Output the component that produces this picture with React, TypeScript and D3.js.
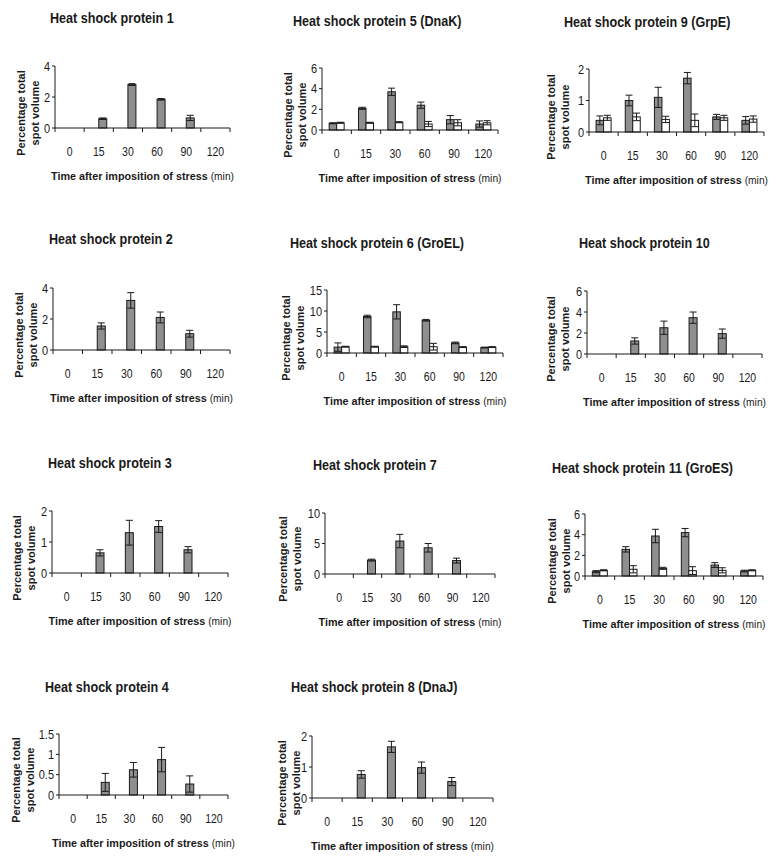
import React from "react";
import * as d3 from "d3";

const categories = ["0", "15", "30", "60", "90", "120"];

const hsp1Mean = [0, 0.6, 2.8, 1.85, 0.65, 0];
const hsp1Err = [0, 0.05, 0.06, 0.05, 0.17, 0];
const hsp2Mean = [0, 1.55, 3.2, 2.1, 1.05, 0];
const hsp2Err = [0, 0.2, 0.5, 0.35, 0.22, 0];
const hsp3Mean = [0, 0.65, 1.3, 1.5, 0.75, 0];
const hsp3Err = [0, 0.1, 0.4, 0.19, 0.1, 0];
const hsp4Mean = [0, 0.31, 0.62, 0.87, 0.27, 0];
const hsp4Err = [0, 0.22, 0.18, 0.3, 0.2, 0];
const hsp5Stress = [0.65, 2.1, 3.7, 2.4, 1.0, 0.58];
const hsp5StressErr = [0.05, 0.1, 0.35, 0.3, 0.4, 0.3];
const hsp5Control = [0.7, 0.7, 0.75, 0.58, 0.7, 0.7];
const hsp5ControlErr = [0.05, 0.05, 0.05, 0.25, 0.3, 0.2];
const hsp6Stress = [1.4, 8.7, 9.8, 7.8, 2.4, 1.3];
const hsp6StressErr = [1.0, 0.3, 1.7, 0.2, 0.2, 0.1];
const hsp6Control = [1.5, 1.5, 1.5, 1.5, 1.4, 1.4];
const hsp6ControlErr = [0.1, 0.1, 0.2, 0.8, 0.1, 0.1];
const hsp7Mean = [0, 2.28, 5.4, 4.3, 2.2, 0];
const hsp7Err = [0, 0.15, 1.1, 0.7, 0.4, 0];
const hsp8Mean = [0, 0.76, 1.65, 0.98, 0.53, 0];
const hsp8Err = [0, 0.12, 0.18, 0.18, 0.13, 0];
const hsp9Stress = [0.37, 1.0, 1.1, 1.71, 0.48, 0.37];
const hsp9StressErr = [0.14, 0.17, 0.32, 0.18, 0.08, 0.12];
const hsp9Control = [0.45, 0.48, 0.4, 0.37, 0.45, 0.41];
const hsp9ControlErr = [0.08, 0.12, 0.1, 0.2, 0.08, 0.1];
const hsp10Mean = [0, 1.24, 2.5, 3.46, 1.94, 0];
const hsp10Err = [0, 0.3, 0.63, 0.54, 0.44, 0];
const hsp11Stress = [0.42, 2.58, 3.87, 4.2, 1.06, 0.48];
const hsp11StressErr = [0.1, 0.26, 0.65, 0.4, 0.23, 0.08];
const hsp11Control = [0.55, 0.65, 0.74, 0.52, 0.55, 0.55];
const hsp11ControlErr = [0.05, 0.35, 0.1, 0.38, 0.25, 0.05];

const xLabel = "Time after imposition of stress";
const xLabelUnit = "(min)";
const yLabel1 = "Percentage total";
const yLabel2 = "spot volume";

type Series = { vals: number[]; errs: number[]; fill: string } | null;
type Panel = {
  title: string;
  yMax: number;
  yTicks: number[];
  series: Series[];
  ax: number; top: number; zero: number; xEnd: number;
  tx: number; ty: number; ylx: number;
};

const GREY = "#8f8f8f";
const WHITE = "#ffffff";

const panels: Panel[] = [
  { title: "Heat shock protein 1", yMax: 4, yTicks: [0, 2, 4],
    series: [null, { vals: hsp1Mean, errs: hsp1Err, fill: GREY }],
    ax: 55, top: 66, zero: 128, xEnd: 230, tx: 50, ty: 18, ylx: -34 },
  { title: "Heat shock protein 5 (DnaK)", yMax: 6, yTicks: [0, 2, 4, 6],
    series: [{ vals: hsp5Stress, errs: hsp5StressErr, fill: GREY }, { vals: hsp5Control, errs: hsp5ControlErr, fill: WHITE }],
    ax: 322, top: 68, zero: 130, xEnd: 498, tx: 293, ty: 21, ylx: -34 },
  { title: "Heat shock protein 9 (GrpE)", yMax: 2, yTicks: [0, 1, 2],
    series: [{ vals: hsp9Stress, errs: hsp9StressErr, fill: GREY }, { vals: hsp9Control, errs: hsp9ControlErr, fill: WHITE }],
    ax: 589, top: 69, zero: 132, xEnd: 764, tx: 564, ty: 22, ylx: -38 },
  { title: "Heat shock protein 2", yMax: 4, yTicks: [0, 2, 4],
    series: [null, { vals: hsp2Mean, errs: hsp2Err, fill: GREY }],
    ax: 53, top: 288, zero: 350, xEnd: 230, tx: 49, ty: 239, ylx: -34 },
  { title: "Heat shock protein 6 (GroEL)", yMax: 15, yTicks: [0, 5, 10, 15],
    series: [{ vals: hsp6Stress, errs: hsp6StressErr, fill: GREY }, { vals: hsp6Control, errs: hsp6ControlErr, fill: WHITE }],
    ax: 327, top: 290, zero: 353, xEnd: 503, tx: 290, ty: 243, ylx: -41 },
  { title: "Heat shock protein 10", yMax: 6, yTicks: [0, 2, 4, 6],
    series: [null, { vals: hsp10Mean, errs: hsp10Err, fill: GREY }],
    ax: 587, top: 291, zero: 354, xEnd: 762, tx: 579, ty: 243, ylx: -36 },
  { title: "Heat shock protein 3", yMax: 2, yTicks: [0, 1, 2],
    series: [null, { vals: hsp3Mean, errs: hsp3Err, fill: GREY }],
    ax: 52, top: 511, zero: 573, xEnd: 228, tx: 48, ty: 463, ylx: -35 },
  { title: "Heat shock protein 7", yMax: 10, yTicks: [0, 5, 10],
    series: [null, { vals: hsp7Mean, errs: hsp7Err, fill: GREY }],
    ax: 325, top: 513, zero: 574, xEnd: 495, tx: 313, ty: 465, ylx: -42 },
  { title: "Heat shock protein 11 (GroES)", yMax: 6, yTicks: [0, 2, 4, 6],
    series: [{ vals: hsp11Stress, errs: hsp11StressErr, fill: GREY }, { vals: hsp11Control, errs: hsp11ControlErr, fill: WHITE }],
    ax: 585, top: 514, zero: 576, xEnd: 763, tx: 552, ty: 468, ylx: -33 },
  { title: "Heat shock protein 4", yMax: 1.5, yTicks: [0, 0.5, 1, 1.5],
    series: [null, { vals: hsp4Mean, errs: hsp4Err, fill: GREY }],
    ax: 59, top: 734, zero: 795, xEnd: 228, tx: 45, ty: 687, ylx: -43 },
  { title: "Heat shock protein 8 (DnaJ)", yMax: 2, yTicks: [0, 1, 2],
    series: [null, { vals: hsp8Mean, errs: hsp8Err, fill: GREY }],
    ax: 312, top: 736, zero: 798, xEnd: 493, tx: 291, ty: 687, ylx: -30 },
];

const FONT = "'Liberation Sans', Arial, sans-serif";
const INK = "#1a1a1a";

function PanelChart({ p }: { p: Panel }) {
  const x = d3.scaleBand<string>().domain(categories).range([p.ax, p.xEnd]).padding(0);
  const bw = x.bandwidth();
  const double = p.series[0] !== null;
  const half = double ? 7.5 : 8;
  const xs = d3.scaleBand<string>().domain(["a", "b"]).range([bw / 2 - half, bw / 2 + half]).padding(0);
  const y = d3.scaleLinear().domain([0, p.yMax]).range([p.zero, p.top]);
  const boundaries = d3.range(categories.length + 1).map((i) => p.ax + i * bw);
  const yMid = p.zero - 15;
  const fmt = (v: number) => String(v);
  return (
    <g>
      <text transform={`translate(${p.tx},${p.ty + 5}) scale(0.9,1)`} fontFamily={FONT} fontWeight="bold" fontSize={14} fill={INK}>
        {p.title}
      </text>
      {p.series.map((s, si) =>
        s === null ? null : (
          <g key={si}>
            {s.vals.map((v, i) => {
              const x0 = (x(categories[i]) as number) + (xs(si === 0 ? "a" : "b") as number);
              const w = xs.bandwidth();
              const yv = y(v);
              const e = s.errs[i];
              const cx = x0 + w / 2;
              return (
                <g key={i}>
                  <rect x={x0} y={yv} width={w} height={p.zero - yv} fill={s.fill} stroke={INK} strokeWidth={1} />
                  {e > 0 && (
                    <g stroke={INK} strokeWidth={1}>
                      <line x1={cx} x2={cx} y1={y(Math.max(0, v - e))} y2={y(v + e)} />
                      <line x1={cx - 3.5} x2={cx + 3.5} y1={y(v + e)} y2={y(v + e)} />
                      <line x1={cx - 3.5} x2={cx + 3.5} y1={y(Math.max(0, v - e))} y2={y(Math.max(0, v - e))} />
                    </g>
                  )}
                </g>
              );
            })}
          </g>
        )
      )}
      <line x1={p.ax} x2={p.ax} y1={p.top} y2={p.zero} stroke={INK} strokeWidth={1} />
      <line x1={p.ax} x2={p.xEnd} y1={p.zero} y2={p.zero} stroke={INK} strokeWidth={1} />
      {boundaries.map((bx, i) => (
        <line key={i} x1={bx} x2={bx} y1={p.zero} y2={p.zero + 4} stroke={INK} strokeWidth={1} />
      ))}
      {p.yTicks.map((t) => (
        <g key={t}>
          <line x1={p.ax - 3} x2={p.ax} y1={y(t)} y2={y(t)} stroke={INK} strokeWidth={1} />
          <text transform={`translate(${p.ax - 5},${y(t) + 4.5}) scale(0.88,1)`} textAnchor="end" fontFamily={FONT} fontSize={12.5} fill={INK}>
            {fmt(t)}
          </text>
        </g>
      ))}
      {categories.map((c) => (
        <text key={c} transform={`translate(${(x(c) as number) + bw / 2},${p.zero + 27.5}) scale(0.82,1)`} textAnchor="middle" fontFamily={FONT} fontSize={12.8} fill={INK}>
          {c}
        </text>
      ))}
      <text transform={`translate(${(p.ax + p.xEnd) / 2},${p.zero + 52}) scale(0.93,1)`} textAnchor="middle" fontFamily={FONT} fontSize={11.6} fill={INK}>
        <tspan fontWeight="bold">{xLabel} </tspan>
        <tspan fontSize={11}>{xLabelUnit}</tspan>
      </text>
      <text transform={`translate(${p.ax + p.ylx + 4},${yMid}) rotate(-90)`} textAnchor="middle" fontFamily={FONT} fontWeight="bold" fontSize={11} fill={INK}>
        {yLabel1}
      </text>
      <text transform={`translate(${p.ax + p.ylx + 18},${yMid}) rotate(-90)`} textAnchor="middle" fontFamily={FONT} fontWeight="bold" fontSize={11} fill={INK}>
        {yLabel2}
      </text>
    </g>
  );
}

export default function App() {
  return (
    <svg width={777} height={865} style={{ position: "absolute", left: 0, top: 0, background: "#fff" }}>
      <rect x={0} y={0} width={777} height={865} fill="#fff" />
      {panels.map((p, i) => (
        <PanelChart key={i} p={p} />
      ))}
    </svg>
  );
}
